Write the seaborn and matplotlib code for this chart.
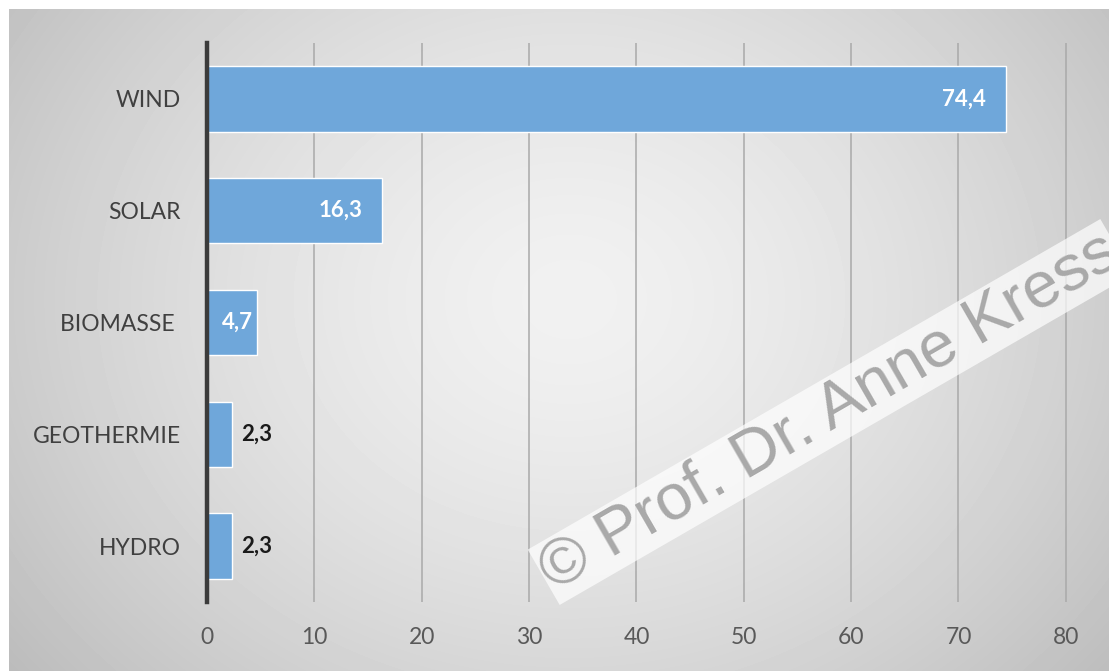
import numpy as np
import matplotlib
matplotlib.use("Agg")
import matplotlib.pyplot as plt
import seaborn as sns

categories = ["WIND", "SOLAR", "BIOMASSE ", "GEOTHERMIE", "HYDRO"]
values = [74.4, 16.3, 4.7, 2.3, 2.3]
label_text = ["74,4", "16,3", "4,7", "2,3", "2,3"]
label_place = ["inside", "inside", "inside_tight", "outside", "outside"]
x_ticks = [0, 10, 20, 30, 40, 50, 60, 70, 80]
watermark = "© Prof. Dr. Anne Kress"

sns.set_theme(style="white")
plt.rcParams["font.family"] = ["Lato", "DejaVu Sans"]

W, H = 1109, 671
fig = plt.figure(figsize=(W / 100, H / 100), dpi=100)
fig.patch.set_facecolor("white")

# background radial gradient panel
bg = fig.add_axes([9 / W, 0, 1 - 9 / W, 1 - 9 / H], zorder=0)
yy, xx = np.mgrid[0:662, 0:1100]
cx, cy = 560, 290
r = np.sqrt(((xx - cx) / 620.0) ** 2 + ((yy - cy) / 520.0) ** 2)
shade = 0.945 - 0.17 * np.clip(r, 0, 1.2) ** 1.5
bg.imshow(shade, cmap="gray", vmin=0, vmax=1, aspect="auto", interpolation="bilinear")
bg.set_axis_off()

ax = fig.add_axes([207 / W, 1 - 602 / H, (1068 - 207) / W, (602 - 43) / H], zorder=1)
ax.set_facecolor("none")

sns.barplot(x=values, y=categories, orient="h", color="#6fa7da", saturation=1,
            width=0.585, ax=ax, zorder=3)

ax.set_xlim(0, 80.2)
ax.set_ylim(4.5, -0.5)
ax.set_xticks(x_ticks)
ax.set_xticklabels([str(t) for t in x_ticks])
ax.set_xlabel("")
ax.set_ylabel("")

ax.xaxis.grid(True, color="#a9a9a9", lw=1.1, zorder=0)
ax.yaxis.grid(False)
for s in ["top", "right", "bottom"]:
    ax.spines[s].set_visible(False)
ax.spines["left"].set_color("#3b3b3b")
ax.spines["left"].set_linewidth(3.2)
ax.spines["left"].set_zorder(5)
ax.tick_params(axis="x", length=0, pad=18, labelsize=16.5, labelcolor="#595959")
ax.tick_params(axis="y", length=0, pad=19, labelsize=16.5, labelcolor="#404040")

cont = ax.containers[0]
styles = {
    "inside": dict(padding=-14, color="white", ha="right"),
    "inside_tight": dict(padding=-3, color="white", ha="right"),
    "outside": dict(padding=7, color="#1a1a1a", ha="left"),
}
for place, st in styles.items():
    labs = [t if p == place else "" for t, p in zip(label_text, label_place)]
    txts = ax.bar_label(cont, labels=labs, padding=st["padding"], color=st["color"],
                        fontsize=16, fontweight="bold", zorder=6)
    for t in txts:
        t.set_ha(st["ha"])

# watermark
fig.text(830 / W, 1 - 412 / H, watermark, rotation=30, rotation_mode="anchor",
         ha="center", va="center", fontsize=47, color="#a9a9a9",
         family=["Liberation Sans", "DejaVu Sans"], zorder=10,
         bbox=dict(boxstyle="square,pad=0.03", facecolor="white", edgecolor="none", alpha=0.7))

fig.savefig("out.png", dpi=100)
